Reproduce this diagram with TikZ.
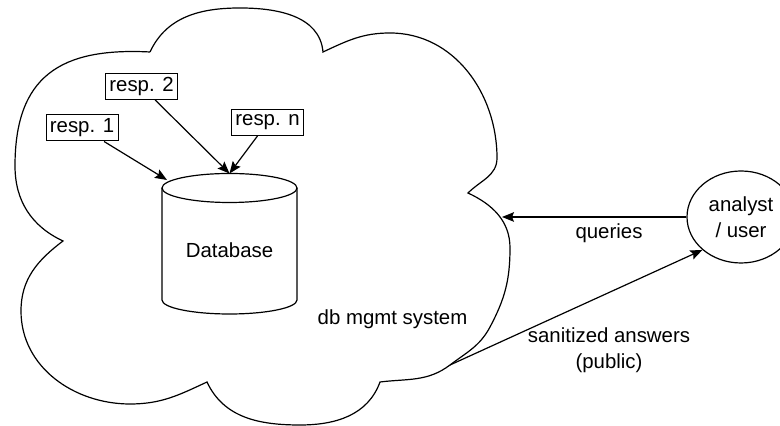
\documentclass[tikz,border=0pt]{standalone}
\usepackage{fontspec}
\setmainfont{Liberation Sans}
\usepackage{tikz}
\usetikzlibrary{arrows.meta, shapes.geometric}

\begin{document}
\begin{tikzpicture}[x=0.5pt, y=0.5pt, line width=0.6pt,
  every node/.style={font=\fontsize{10.2pt}{13pt}\selectfont},
  resp/.style={draw, line width=0.5pt, inner sep=0pt, minimum width=36pt, minimum height=13pt},
  arr/.style={-{Stealth[length=6pt,width=4.8pt,inset=1pt]}}]
\useasboundingbox (0,0) rectangle (780,426);

% the db mgmt system cloud
\draw (150,374) to[out=65,in=180] (240,418) to[out=0,in=95] (323,374)
  to[out=25,in=180] (390,393) to[out=0,in=90] (497,268) to[out=-90,in=45] (468,233)
  to[out=-25,in=90] (510,178) to[out=-90,in=62] (490,99) to[out=242,in=37] (450,61)
  to[out=217,in=7] (380,44)
  to[out=-110,in=0] (300,1) to[out=180,in=-65] (207,44)
  to[out=-155,in=0] (130,22) to[out=180,in=-90] (21,115) to[out=90,in=-143] (63,185)
  to[out=155,in=-90] (15,260) to[out=90,in=177,looseness=1.3] (150,374);

% database
\draw (162,238) -- (162,126) arc[start angle=180, end angle=360, x radius=67.5, y radius=14] -- (297,238);
\draw (229.5,238) ellipse[x radius=67.5, y radius=14.5];
\node (db) at (229.5,176) {Database};
\coordinate (dbtop) at (229.5,252.5);
\coordinate (dbleft) at (167,246);

\node[resp] (r1) at (82,298) {resp. 1};
\node[resp] (r2) at (141.5,339.5) {resp. 2};
\node[resp] (rn) at (267.5,303.5) {resp. n};
\draw[arr] (r1) -- (dbleft);
\draw[arr] (r2) -- (dbtop);
\draw[arr] (rn) -- (dbtop);

\node (dbms) at (392.5,107) {db mgmt system};

% analyst side
\node[draw, ellipse, inner sep=0pt, minimum width=54pt, minimum height=46pt, align=center] (user) at (741,209) {analyst\\/ user};
\coordinate (qin) at (502,209);
\coordinate (aout) at (450,61);
\draw[arr] (user.west) -- (qin);
\draw[arr] (aout) -- (user.south west);
\node (qlab) at (609,193) {queries};
\node[align=center] (alab) at (609,76) {sanitized answers\\(public)};
\end{tikzpicture}
\end{document}
